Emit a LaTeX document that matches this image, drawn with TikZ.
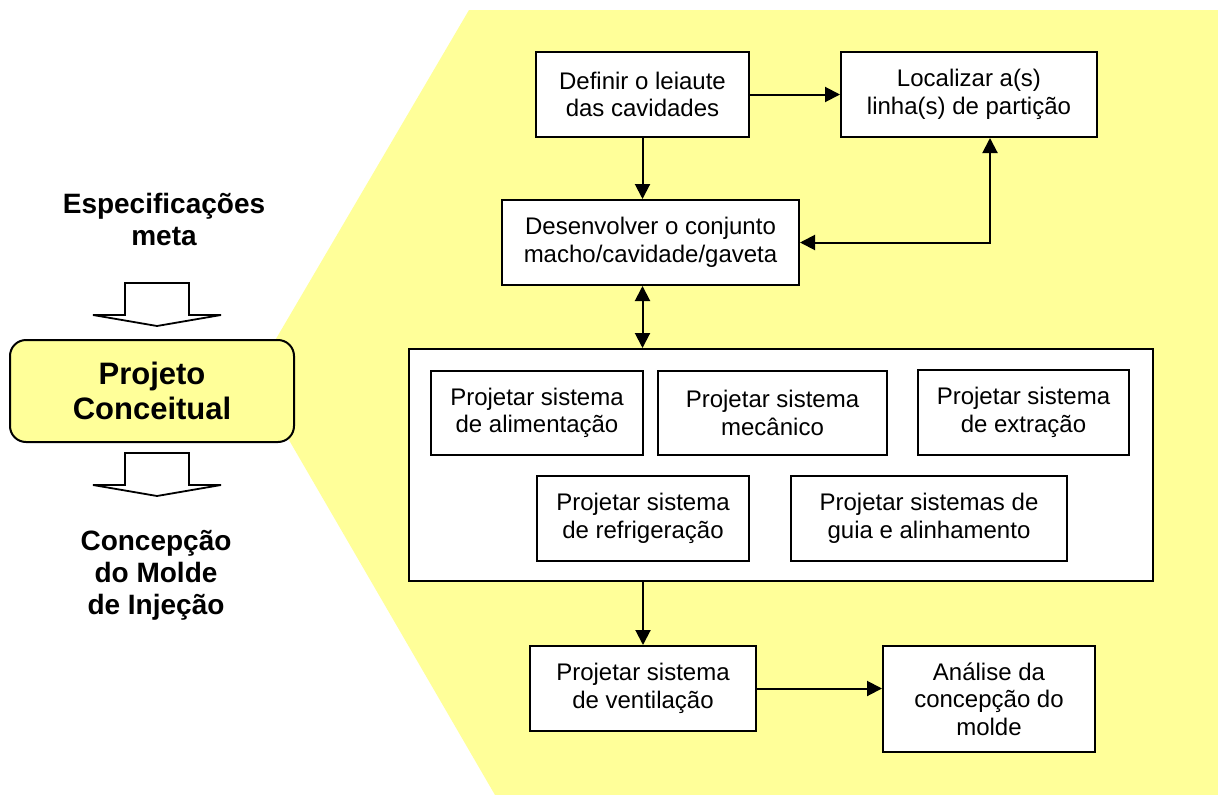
\documentclass[tikz,border=0pt]{standalone}
\usepackage{fontspec}
\setmainfont{Liberation Sans}
\usetikzlibrary{arrows.meta}
\definecolor{paleyellow}{RGB}{255,255,153}
\begin{document}
\begin{tikzpicture}[x=1pt,y=-1pt,
  box/.style={draw, line width=2pt, fill=white, inner sep=0pt, align=center,
    font=\fontsize{24}{27.6}\selectfont},
  tipshape/.style={},
  flow/.style={line width=2pt, -{Triangle[length=15pt,width=15pt]}},
  both/.style={line width=2pt, {Triangle[length=15pt,width=15pt]}-{Triangle[length=15pt,width=15pt]}},
  hollow/.style={draw, line width=1.8pt, fill=white, line join=miter},
  heading/.style={align=center, font=\bfseries\fontsize{28}{32}\selectfont}
]
% canvas
\fill[white] (0,0) rectangle (1218,795);
\useasboundingbox (0,0) rectangle (1218,795);

% yellow chevron behind the detailed flow
\fill[paleyellow] (469,10) -- (1218,10) -- (1218,795) -- (495,795) -- (253,378) -- cycle;

% left column
\node[heading] (spec) at (164,219) {Especificações\\meta};
\draw[hollow] (125,283) -- (189,283) -- (189,315) -- (221,315) -- (157,326)
  -- (93,315) -- (125,315) -- cycle;
\node[draw, line width=2pt, fill=paleyellow, rounded corners=16pt,
  minimum width=284pt, minimum height=102pt, align=center,
  font=\bfseries\fontsize{31}{35}\selectfont] (pc) at (152,391) {Projeto\\Conceitual};
\draw[hollow] (125,453) -- (189,453) -- (189,485) -- (221,485) -- (157,496)
  -- (93,485) -- (125,485) -- cycle;
\node[heading] (conc) at (156,575) {Concepção\\do Molde\\de Injeção};

% top steps
\node[box, minimum width=213pt, minimum height=85pt] (def) at (642.5,94.5)
  {Definir o leiaute\\das cavidades};
\node[box, minimum width=256pt, minimum height=85pt] (loc) at (969,94.5)
  {Localizar a(s)\\linha(s) de partição};
\node[box, minimum width=297pt, minimum height=85pt] (des) at (650.5,242.5)
  {Desenvolver o conjunto\\macho/cavidade/gaveta};

% group of system designs
\node[box, minimum width=744pt, minimum height=232pt] (grp) at (781,465) {};
\node[box, minimum width=212pt, minimum height=84pt] (ali) at (537,413)
  {Projetar sistema\\de alimentação};
\node[box, minimum width=229pt, minimum height=84pt] (mec) at (772.5,413)
  {Projetar sistema\\mecânico};
\node[box, minimum width=211pt, minimum height=85pt] (ext) at (1023.5,412.5)
  {Projetar sistema\\de extração};
\node[box, minimum width=212pt, minimum height=85pt] (ref) at (643,518.5)
  {Projetar sistema\\de refrigeração};
\node[box, minimum width=276pt, minimum height=85pt] (gui) at (929,518.5)
  {Projetar sistemas de\\guia e alinhamento};

% final steps
\node[box, minimum width=226pt, minimum height=85pt] (ven) at (643,688.5)
  {Projetar sistema\\de ventilação};
\node[box, minimum width=212pt, minimum height=106pt] (ana) at (989,699)
  {Análise da\\concepção do\\molde};

% connectors
\draw[flow] (def.east) -- (loc.west);
\draw[flow] (def.south) -- (def.south |- des.north);
\draw[both] (des.east) -| ([xshift=21pt]loc.south);
\draw[both] (des.south -| def.south) -- (grp.north -| def.south);
\draw[flow] (grp.south -| ven.north) -- (ven.north);
\draw[flow] (ven.east) -- (ven.east -| ana.west);
\end{tikzpicture}
\end{document}
